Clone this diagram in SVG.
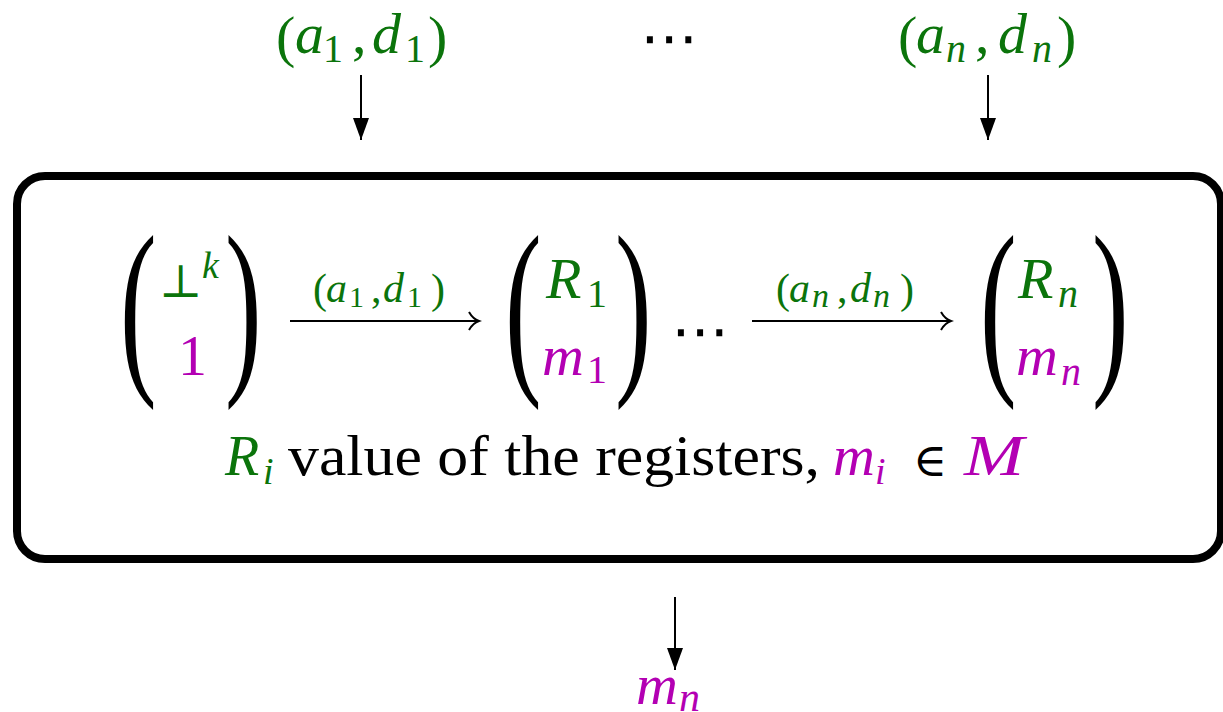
<svg xmlns="http://www.w3.org/2000/svg" width="1223" height="712" viewBox="0 0 1223 712">
<style>
text{font-family:"Liberation Serif","DejaVu Serif",serif;}
.g{fill:#0b740b;}
.m{fill:#b300b3;}
.k{fill:#000;}
.it{font-style:italic;}
.dots{font-family:"DejaVu Serif","DejaVu Sans",serif;}
.ln{stroke:#000;stroke-width:2;fill:none;}
</style>
<defs>
<marker id="tri" markerWidth="24" markerHeight="18" refX="22" refY="8" orient="auto" markerUnits="userSpaceOnUse">
<path d="M0,0 L22,8 L0,16 z" fill="#000"/>
</marker>
<marker id="chev" markerWidth="14" markerHeight="22" refX="11" refY="10" orient="auto" markerUnits="userSpaceOnUse">
<path d="M1,1 Q5,8 11,10 Q5,12 1,19" fill="none" stroke="#000" stroke-width="2"/>
</marker>
</defs>

<g id="box">
<rect x="17" y="176" width="1204" height="383" rx="28" fill="none" stroke="#000" stroke-width="8"/>
</g>

<g id="input1">
<text class="g">
<tspan x="276" y="56" font-size="58">(</tspan><tspan class="it" x="295" y="53" font-size="58">a</tspan><tspan x="323" y="62" font-size="40">1</tspan><tspan x="352" y="53" font-size="58">,</tspan><tspan class="it" x="372" y="53" font-size="58">d</tspan><tspan x="405" y="62" font-size="40">1</tspan><tspan x="428" y="56" font-size="58">)</tspan>
</text>
</g>

<g id="dots-top">
<text class="k dots" x="669" y="58" font-size="58" text-anchor="middle">⋯</text>
</g>

<g id="inputn">
<text class="g">
<tspan x="898" y="56" font-size="58">(</tspan><tspan class="it" x="916" y="53" font-size="58">a</tspan><tspan class="it" x="946" y="62" font-size="40">n</tspan><tspan x="975" y="53" font-size="58">,</tspan><tspan class="it" x="998" y="53" font-size="58">d</tspan><tspan class="it" x="1032" y="62" font-size="40">n</tspan><tspan x="1057" y="56" font-size="58">)</tspan>
</text>
</g>

<g id="state0">
<text class="k" transform="translate(120,369) scale(1,1.76)" font-size="110">(</text>
<text class="k" transform="translate(225,369) scale(1,1.76)" font-size="110">)</text>
<text class="g dots" x="159" y="297" font-size="46">⊥</text>
<text class="g it" x="202" y="278" font-size="38">k</text>
<text class="m" x="178" y="375" font-size="58">1</text>
</g>

<g id="state1">
<text class="k" transform="translate(505,369) scale(1,1.76)" font-size="110">(</text>
<text class="k" transform="translate(615,369) scale(1,1.76)" font-size="110">)</text>
<text class="g"><tspan class="it" x="546" y="298" font-size="58">R</tspan><tspan x="587" y="307" font-size="40">1</tspan></text>
<text class="m"><tspan class="it" x="542" y="375" font-size="58">m</tspan><tspan x="587" y="383" font-size="40">1</tspan></text>
</g>

<g id="dots-mid">
<text class="k dots" x="700" y="351" font-size="58" text-anchor="middle">⋯</text>
</g>

<g id="staten">
<text class="k" transform="translate(980,369) scale(1,1.76)" font-size="110">(</text>
<text class="k" transform="translate(1092,369) scale(1,1.76)" font-size="110">)</text>
<text class="g"><tspan class="it" x="1018" y="298" font-size="58">R</tspan><tspan class="it" x="1058" y="307" font-size="40">n</tspan></text>
<text class="m"><tspan class="it" x="1016" y="375" font-size="58">m</tspan><tspan class="it" x="1061" y="385" font-size="40">n</tspan></text>
</g>

<g id="caption">
<text class="g"><tspan class="it" x="225" y="475" font-size="56">R</tspan><tspan class="it" x="263" y="484" font-size="38">i</tspan></text>
<text class="k" x="288" y="475" font-size="58" textLength="532" lengthAdjust="spacingAndGlyphs">value of the registers,</text>
<text class="m"><tspan class="it" x="833" y="475" font-size="58">m</tspan><tspan class="it" x="875" y="484" font-size="38">i</tspan></text>
<text class="k dots" x="913" y="476" font-size="46">∈</text>
<text class="m it" x="964" y="475" font-size="56" textLength="60" lengthAdjust="spacingAndGlyphs">M</text>
</g>

<g id="output">
<text class="m"><tspan class="it" x="636" y="704" font-size="58">m</tspan><tspan class="it" x="679" y="711" font-size="42">n</tspan></text>
</g>

<g id="connectors">
<line class="ln" x1="361" y1="75" x2="361" y2="140" marker-end="url(#tri)"/>
<line class="ln" x1="988" y1="75" x2="988" y2="140" marker-end="url(#tri)"/>
<line class="ln" x1="675" y1="597" x2="675" y2="670" marker-end="url(#tri)"/>
<line class="ln" x1="290" y1="321" x2="479" y2="321" marker-end="url(#chev)"/>
<line class="ln" x1="752" y1="321" x2="951" y2="321" marker-end="url(#chev)"/>
</g>

<g id="edge-labels">
<text class="g">
<tspan x="313" y="303" font-size="42">(</tspan><tspan class="it" x="326" y="302" font-size="42">a</tspan><tspan x="349" y="307" font-size="30">1</tspan><tspan x="371" y="302" font-size="42">,</tspan><tspan class="it" x="383" y="302" font-size="42">d</tspan><tspan x="407" y="307" font-size="30">1</tspan><tspan x="431" y="303" font-size="42">)</tspan>
</text>
<text class="g">
<tspan x="776" y="303" font-size="42">(</tspan><tspan class="it" x="789" y="302" font-size="42">a</tspan><tspan class="it" x="812" y="307" font-size="34">n</tspan><tspan x="837" y="302" font-size="42">,</tspan><tspan class="it" x="850" y="302" font-size="42">d</tspan><tspan class="it" x="873" y="307" font-size="34">n</tspan><tspan x="900" y="303" font-size="42">)</tspan>
</text>
</g>
</svg>
